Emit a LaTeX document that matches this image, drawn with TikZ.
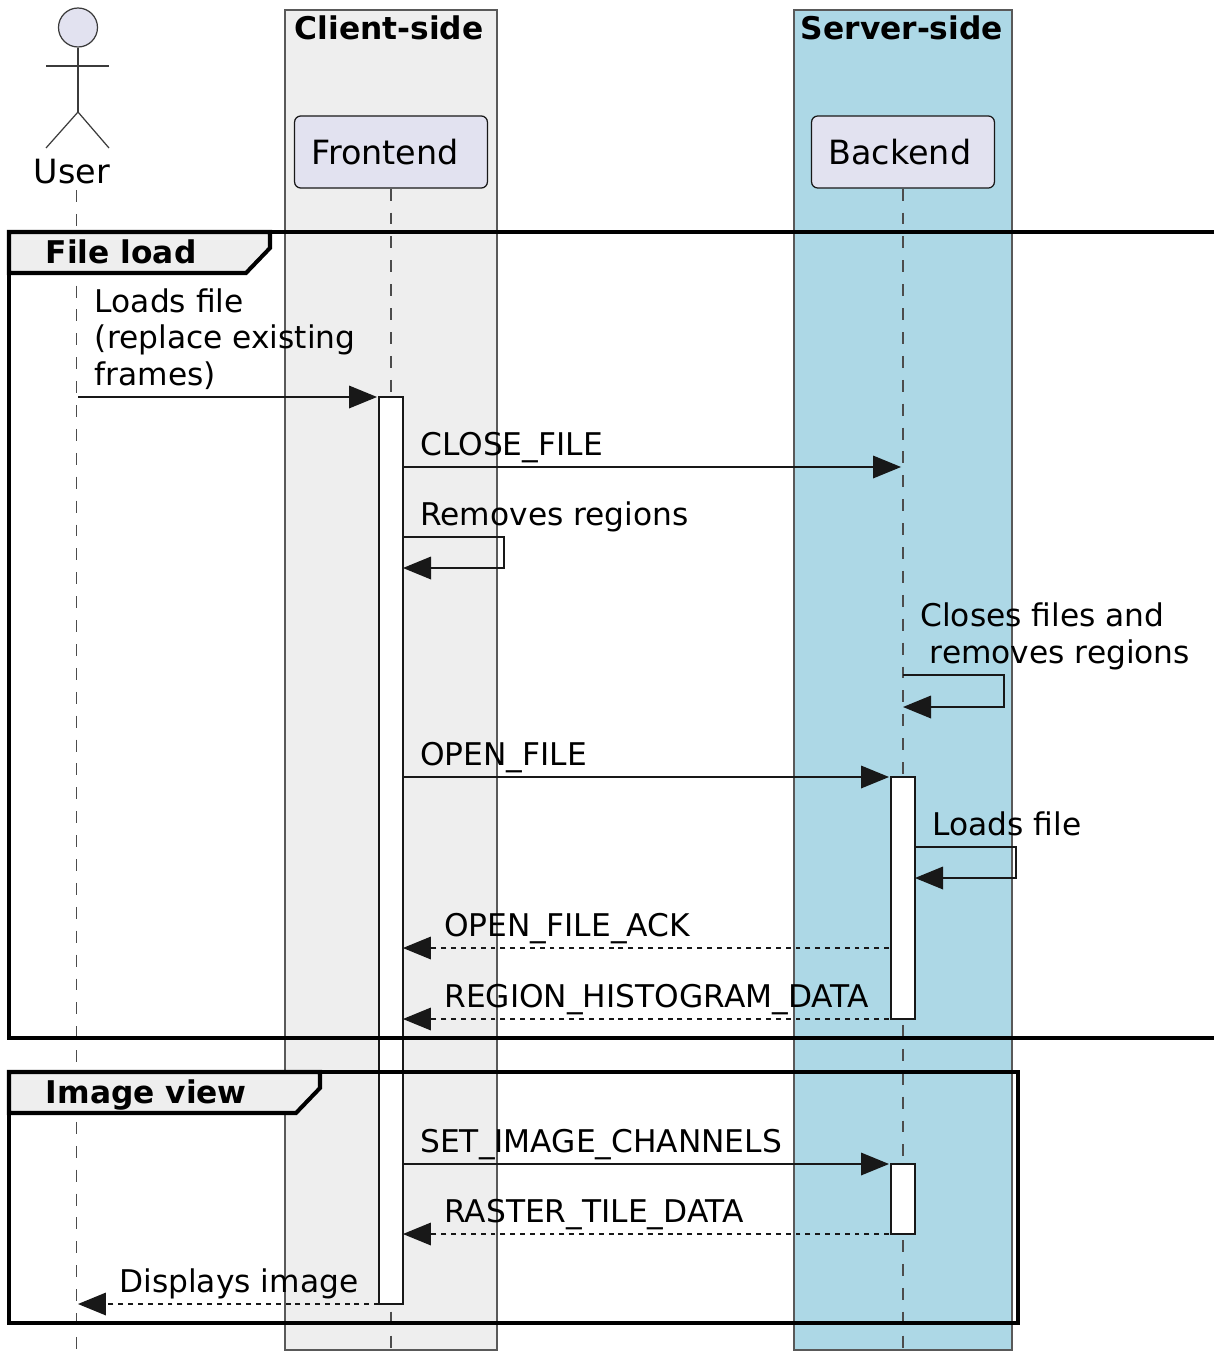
\documentclass[tikz,border=0pt]{standalone}
\usepackage{fontspec}
\setmainfont{DejaVu Sans}
\usetikzlibrary{arrows.meta}

\definecolor{clientbg}{HTML}{EEEEEE}
\definecolor{serverbg}{HTML}{ADD8E6}
\definecolor{actorbg}{HTML}{E2E2F0}
\definecolor{inkdark}{HTML}{181818}

\tikzset{
    boxbg/.style={draw=black!65, line width=0.65pt},
    boxtitle/.style={anchor=base west, inner sep=0pt, font=\fontsize{17.8}{21}\selectfont\bfseries},
    party/.style={draw=inkdark, fill=actorbg, rounded corners=3.5pt, line width=0.7pt, minimum height=41pt, inner ysep=0pt, inner xsep=9.64pt, align=left, font=\fontsize{19}{23}\selectfont},
    actorline/.style={draw=inkdark!85, line width=0.7pt},
    lifeline/.style={draw=black!70, line width=0.7pt, dash pattern=on 6.8pt off 6.8pt},
    activation/.style={draw=inkdark, fill=white, line width=1.5pt, minimum width=13.6pt, inner sep=0pt, outer sep=0pt},
    msg/.style={draw=inkdark, line width=1.4pt, -{Triangle[length=0.56cm, width=0.46cm, fill=inkdark, line width=0pt]}},
    reply/.style={msg, dash pattern=on 2.8pt off 2.8pt},
    msgtext/.style={anchor=base west, inner sep=0pt, align=left, font=\fontsize{17.8}{20.7}\selectfont},
    grouptitle/.style={anchor=base west, inner sep=0pt, font=\fontsize{17.8}{20.7}\selectfont\bfseries},
    groupframe/.style={draw=black, line width=2.3pt},
    grouptab/.style={draw=black, fill=clientbg, line width=2.3pt}
}

\begin{document}
\begin{tikzpicture}[x=0.02cm, y=-0.02cm]
    \useasboundingbox (0,0) rectangle (1214,1355);

    % Side boxes
    \draw[boxbg, fill=clientbg] (285,10) rectangle (497,1350);
    \draw[boxbg, fill=serverbg] (794,10) rectangle (1012,1350);
    \node[boxtitle] (clienttitle) at (294.5,40) {Client-side};
    \node[boxtitle] (servertitle) at (800.5,40) {Server-side};

    % Actor
    \node[circle, actorline, fill=actorbg, inner sep=0pt, minimum size=0.78cm] (userhead) at (78,27.5) {};
    \coordinate (userhip) at (78,112);
    \coordinate (userarml) at (46,66);
    \coordinate (userarmr) at (109,66);
    \coordinate (userfootl) at (46,148);
    \coordinate (userfootr) at (109,148);
    \draw[actorline] (userhead.south) -- (userhip);
    \draw[actorline] (userarml) -- (userarmr);
    \draw[actorline] (userfootl) -- (userhip) -- (userfootr);
    \node[anchor=base west, inner sep=0pt, font=\fontsize{19}{23}\selectfont] (user) at (33.5,183) {User};

    % Participants
    \node[party, text width=159*0.02cm] (frontend) at (391,152) {Frontend};
    \node[party, text width=149*0.02cm] (backend) at (903,152) {Backend};

    % Lifelines
    \coordinate (usertop) at (76.5,190);
    \coordinate (userend) at (76.5,1365);
    \coordinate (frontendend) at (391,1365);
    \coordinate (backendend) at (903,1365);
    \draw[lifeline] (usertop) -- (userend);
    \draw[lifeline] (frontend.south -| frontendend) -- (frontendend);
    \draw[lifeline] (backend.south -| backendend) -- (backendend);

    % Activation bars
    \node[activation, minimum height=907*0.02cm] (frontbar) at (391,850.5) {};
    \node[activation, minimum height=242*0.02cm] (backbar) at (903,898) {};
    \node[activation, minimum height=70*0.02cm] (rasterbar) at (903,1199) {};

    % Group frames
    \coordinate (filetopr) at (1214,232);
    \coordinate (filebotr) at (1214,1038);
    \draw[groupframe] (filetopr) -- (9,232) -- (9,1038) -- (filebotr);
    \draw[grouptab] (9,232) -- (270,232) -- (270,248) -- (246,273) -- (9,273) -- cycle;
    \node[grouptitle] (fileload) at (45.5,263) {File load};
    \draw[groupframe] (9,1072) rectangle (1018,1323);
    \draw[grouptab] (9,1072) -- (320,1072) -- (320,1088) -- (296,1113) -- (9,1113) -- cycle;
    \node[grouptitle] (imageview) at (45.5,1103) {Image view};

    % Messages
    \coordinate (loadA) at (78,397);
    \coordinate (loadB) at (377,397);
    \coordinate (closeB) at (901,467);
    \coordinate (removeA) at (403,537);
    \coordinate (removeC) at (504,537);
    \coordinate (removeD) at (504,568);
    \coordinate (removeB) at (403,568);
    \coordinate (srvA) at (903,675);
    \coordinate (srvC) at (1004,675);
    \coordinate (srvD) at (1004,707);
    \coordinate (srvB) at (903,707);
    \coordinate (openB) at (889,777);
    \coordinate (readA) at (915,847);
    \coordinate (readC) at (1016,847);
    \coordinate (readD) at (1016,878);
    \coordinate (readB) at (915,878);
    \coordinate (ackA) at (889,948);
    \coordinate (histA) at (889,1019);
    \coordinate (setB) at (889,1164);
    \coordinate (tileA) at (889,1234);
    \coordinate (showB) at (78,1304);

    \draw[msg] (loadA) -- (loadB);
    \draw[msg] (frontbar.east |- closeB) -- (closeB);
    \draw[msg] (removeA) -- (removeC) -- (removeD) -- (removeB);
    \draw[msg] (srvA) -- (srvC) -- (srvD) -- (srvB);
    \draw[msg] (frontbar.east |- openB) -- (openB);
    \draw[msg] (readA) -- (readC) -- (readD) -- (readB);
    \draw[reply] (ackA) -- (frontbar.east |- ackA);
    \draw[reply] (histA) -- (frontbar.east |- histA);
    \draw[msg] (frontbar.east |- setB) -- (setB);
    \draw[reply] (tileA) -- (frontbar.east |- tileA);
    \draw[reply] (frontbar.west |- showB) -- (showB);

    % Message labels
    \node[msgtext] (loadtext) at (94.5,385) {Loads file\\(replace existing\\frames)};
    \node[msgtext] (closetext) at (420,455) {CLOSE\_FILE};
    \node[msgtext] (removetext) at (420,525) {Removes regions};
    \node[msgtext] (srvtext) at (920,663) {Closes files and\\\hspace*{5.4pt}removes regions};
    \node[msgtext] (opentext) at (420,765) {OPEN\_FILE};
    \node[msgtext] (readtext) at (932,835) {Loads file};
    \node[msgtext] (acktext) at (444,936) {OPEN\_FILE\_ACK};
    \node[msgtext] (histtext) at (444,1007) {REGION\_HISTOGRAM\_DATA};
    \node[msgtext] (settext) at (420,1152) {SET\_IMAGE\_CHANNELS};
    \node[msgtext] (tiletext) at (444,1222) {RASTER\_TILE\_DATA};
    \node[msgtext] (showtext) at (119,1292) {Displays image};

\end{tikzpicture}
\end{document}
